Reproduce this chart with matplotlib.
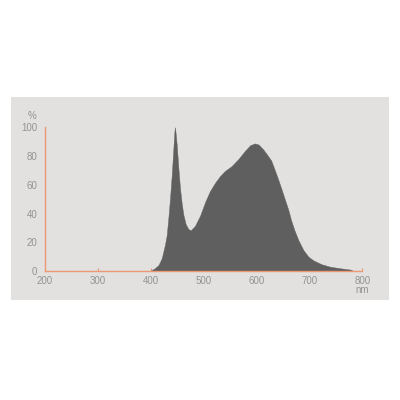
import matplotlib
matplotlib.use("Agg")
import matplotlib.pyplot as plt
from matplotlib.patches import Rectangle

# spectrum (nm, relative %)
wavelength = [395, 400, 408, 415, 421, 427, 430.5, 433.5, 436.7, 440, 443, 445, 446, 447,
              449.4, 452.5, 455.6, 458.8, 462, 466.4, 471.3, 476, 484, 493.5, 503, 512,
              522, 531, 540, 553, 566, 578, 588, 597, 604, 613, 620, 627.7, 634.6, 641.4,
              647.8, 654, 660.3, 665.3, 671.6, 679, 688.6, 698, 708, 723, 739, 758, 777,
              780, 781]
intensity = [0, 0.2, 1.9, 4.2, 8.8, 18, 25, 36.7, 50.6, 67, 85, 97, 100, 97,
             87.7, 71.5, 57.5, 47, 39, 32.5, 29.2, 28.3, 31.5, 38.5, 48, 55.5,
             61.5, 66, 69.5, 73, 78, 83.5, 87.5, 88.8, 88, 84.5, 81, 77, 70.3, 63.3,
             56.4, 49.4, 42.4, 35.5, 28.5, 21.6, 14.6, 10, 7.3, 4.7, 3, 1.9, 1.0,
             0.8, 0]

x_ticks = [200, 300, 400, 500, 600, 700, 800]
y_ticks = [0, 20, 40, 60, 80, 100]

orange = "#eb9873"
label_grey = "#939393"
plt.rcParams["font.family"] = ["Liberation Sans", "DejaVu Sans"]

fig = plt.figure(figsize=(4, 4), dpi=100)
fig.patches.append(Rectangle((0.0275, 0.25), 0.945, 0.5075, transform=fig.transFigure,
                             facecolor="#e2e1df", edgecolor="none", zorder=-1))

ax = fig.add_axes([0.1118, 0.3225, 0.794, 0.35925])
ax.set_zorder(1)
ax.set_facecolor("none")
ax.fill_between(wavelength, intensity, 0, color="#5f5f5f", lw=0.3, edgecolor="#5f5f5f", zorder=2)
ax.set_xlim(200, 800)
ax.set_ylim(0, 100)

for side in ["top", "right"]:
    ax.spines[side].set_visible(False)
for side in ["left", "bottom"]:
    ax.spines[side].set_color(orange)
    ax.spines[side].set_linewidth(1.0)
    ax.spines[side].set_zorder(3)

ax.set_xticks(x_ticks)
ax.set_yticks(y_ticks)
ax.tick_params(axis="x", direction="in", length=2.5, color=orange, width=0.8,
               labelsize=7, labelcolor=label_grey, pad=3.5)
ax.tick_params(axis="y", length=0, labelsize=7, labelcolor=label_grey, pad=5.5)

ax.text(-0.04, 1.079, "%", transform=ax.transAxes, ha="center", va="center",
        fontsize=7, color=label_grey)
ax.text(1.0, -0.132, "nm", transform=ax.transAxes, ha="center", va="center",
        fontsize=7, color=label_grey)

fig.savefig("out.png", dpi=100)
